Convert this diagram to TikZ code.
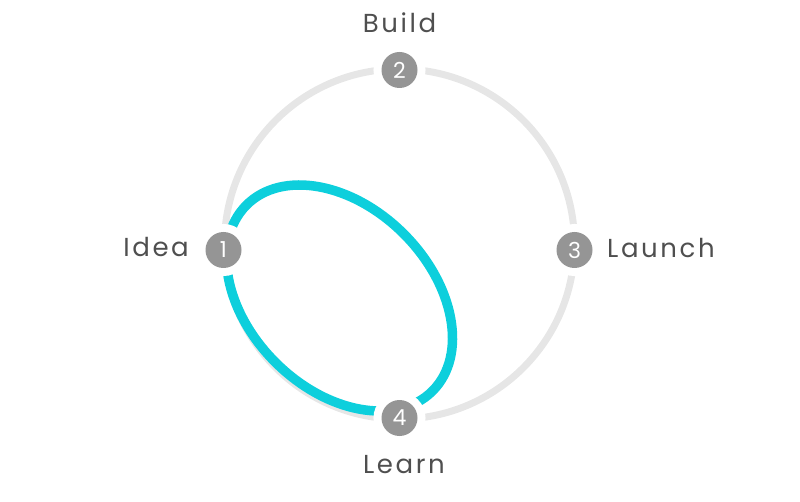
\documentclass[tikz,border=0pt]{standalone}
\usepackage{fontspec}
\setmainfont{Poppins}
\newfontfamily\labelfont[LetterSpace=10]{Poppins}
\usetikzlibrary{backgrounds}
\definecolor{ringgray}{HTML}{E6E6E6}
\definecolor{loopcyan}{HTML}{0DCFDC}
\definecolor{stepgray}{HTML}{959595}
\definecolor{textgray}{HTML}{4F4F4F}
\begin{document}
\begin{tikzpicture}[x=1pt,y=-1pt,
  ring/.style={draw=ringgray, line width=7pt},
  loopline/.style={draw=loopcyan, line width=9.5pt},
  stepnode/.style={circle, fill=stepgray, minimum size=36pt, inner sep=0pt, text=white,
    font=\fontsize{22}{22}\selectfont, preaction={draw=white, line width=16pt}},
  steplabel/.style={text=textgray, font=\labelfont\fontsize{26}{30}\selectfont, inner sep=0pt}
]
\useasboundingbox (0,0) rectangle (800,502);
\coordinate (c) at (399.5,244);
\coordinate (lc) at (339.5,298);
\node[stepnode] (n1) at (223.5,250) {1};
\node[stepnode] (n2) at (399.5,70) {2};
\node[stepnode] (n3) at (574.5,250) {3};
\node[stepnode] (n4) at (399.5,418) {4};
\node[steplabel, anchor=base] (lb) at (399.5,33) {Build};
\node[steplabel, anchor=base east] (li) at (189,257) {Idea};
\node[steplabel, anchor=base west] (ll) at (607,258) {Launch};
\node[steplabel, anchor=base] (le) at (404,473) {Learn};
\begin{scope}[on background layer]
  \draw[ring] (c) circle (175);
  \draw[loopline, rotate around={-45:(lc)}] (lc) ellipse [x radius=131.5, y radius=90.8];
\end{scope}
\end{tikzpicture}
\end{document}
